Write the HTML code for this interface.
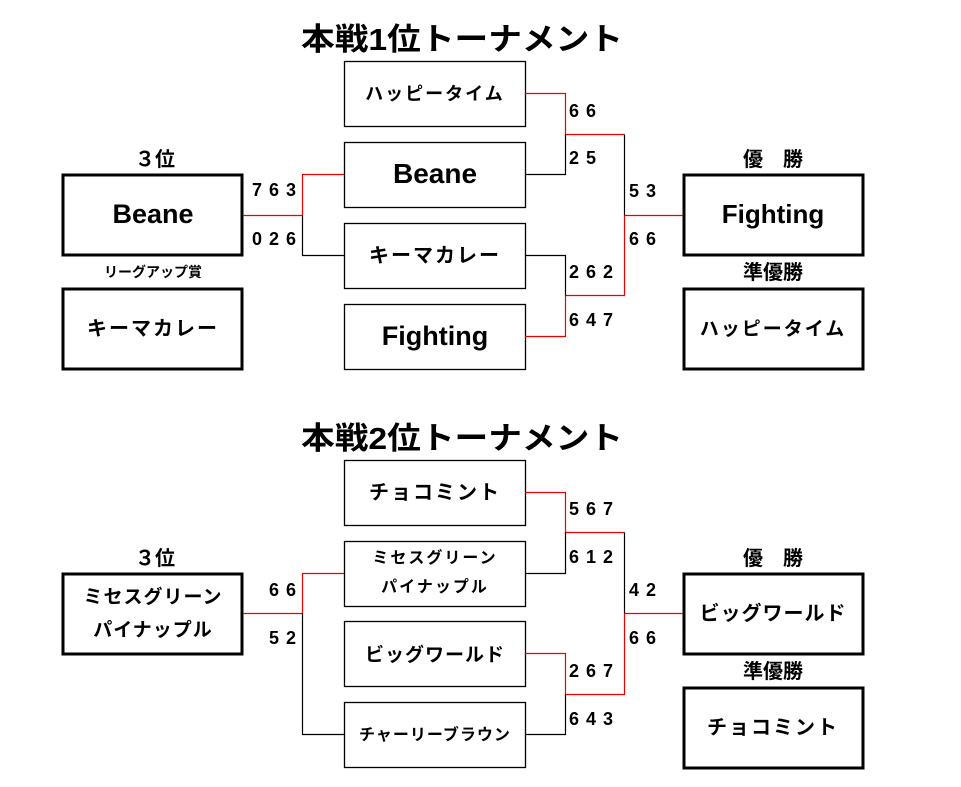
<!DOCTYPE html>
<html><head><meta charset="utf-8"><style>
html,body{margin:0;padding:0;background:#fff;}
svg{display:block;}
text{font-family:"Liberation Sans","Noto Sans CJK JP",sans-serif;font-weight:bold;fill:#000;}
</style></head><body>
<svg width="961" height="787" viewBox="0 0 961 787" xmlns="http://www.w3.org/2000/svg">
<g fill="#fff" stroke="#000">
<rect x="344.5" y="61.5" width="181" height="65" stroke-width="1.3"/>
<rect x="344.5" y="142.5" width="181" height="65" stroke-width="1.3"/>
<rect x="344.5" y="223.5" width="181" height="65" stroke-width="1.3"/>
<rect x="344.5" y="304.5" width="181" height="65" stroke-width="1.3"/>
<rect x="344.5" y="460.5" width="181" height="65" stroke-width="1.3"/>
<rect x="344.5" y="541.5" width="181" height="65" stroke-width="1.3"/>
<rect x="344.5" y="621.5" width="181" height="65" stroke-width="1.3"/>
<rect x="344.5" y="702.5" width="181" height="65" stroke-width="1.3"/>
<rect x="63" y="175" width="179" height="80" stroke-width="3"/>
<rect x="63" y="289" width="179" height="80" stroke-width="3"/>
<rect x="684" y="175" width="179" height="80" stroke-width="3"/>
<rect x="684" y="289" width="179" height="80" stroke-width="3"/>
<rect x="63" y="574" width="179" height="80" stroke-width="3"/>
<rect x="684" y="574" width="179" height="80" stroke-width="3"/>
<rect x="684" y="688" width="179" height="80" stroke-width="3"/>
</g>
<g fill="none" stroke-width="1.2">
<path d="M243 215.5H302.5" stroke="#e00"/>
<path d="M344 174.5H302.5V215.5" stroke="#e00"/>
<path d="M302.5 215.5V255.5H344" stroke="#000"/>
<path d="M525 93.5H565.5V134.5H624.5" stroke="#e00"/>
<path d="M525 174.5H565.5V134.5" stroke="#000"/>
<path d="M624.5 134.5V215.5" stroke="#000"/>
<path d="M624.5 215.5V295.5H565.5" stroke="#e00"/>
<path d="M624.5 215.5H683" stroke="#e00"/>
<path d="M525 255.5H565.5V295.5" stroke="#000"/>
<path d="M525 336.5H565.5V295.5" stroke="#e00"/>
<path d="M243 613.5H302.5" stroke="#e00"/>
<path d="M344 573.5H302.5V613.5" stroke="#e00"/>
<path d="M302.5 613.5V734.5H344" stroke="#000"/>
<path d="M525 492.5H565.5V532.5H624.5" stroke="#e00"/>
<path d="M525 573.5H565.5V532.5" stroke="#000"/>
<path d="M624.5 532.5V613.5" stroke="#000"/>
<path d="M624.5 613.5V694.5H565.5" stroke="#e00"/>
<path d="M624.5 613.5H683" stroke="#e00"/>
<path d="M525 653.5H565.5V694.5" stroke="#e00"/>
<path d="M525 734.5H565.5V694.5" stroke="#000"/>
</g>
<text x="462" y="50" font-size="31" text-anchor="middle" textLength="322" lengthAdjust="spacingAndGlyphs">本戦1位トーナメント</text>
<text x="462" y="449" font-size="31" text-anchor="middle" textLength="322" lengthAdjust="spacingAndGlyphs">本戦2位トーナメント</text>
<g font-size="20" text-anchor="middle">
<text x="155" y="166">３位</text>
<text x="773" y="166">優　勝</text>
<text x="773" y="279">準優勝</text>
<text x="155" y="565">３位</text>
<text x="773" y="565">優　勝</text>
<text x="773" y="678">準優勝</text>
</g>
<text x="153" y="277" font-size="14" text-anchor="middle">リーグアップ賞</text>
<g text-anchor="middle" font-size="20">
<text x="435" y="100" font-size="18" letter-spacing="2">ハッピータイム</text>
<text x="435" y="183" font-size="28">Beane</text>
<text x="435" y="345" font-size="27">Fighting</text>
<text x="435" y="262" letter-spacing="2">キーマカレー</text>
<text x="153" y="223" font-size="27">Beane</text>
<text x="153" y="335" letter-spacing="2">キーマカレー</text>
<text x="773" y="223" font-size="26">Fighting</text>
<text x="773" y="335" font-size="19" letter-spacing="2">ハッピータイム</text>
<text x="435" y="499" letter-spacing="2">チョコミント</text>
<text x="435" y="563" font-size="16" letter-spacing="2">ミセスグリーン</text>
<text x="435" y="592" font-size="16" letter-spacing="2">パイナップル</text>
<text x="435" y="661" font-size="19" letter-spacing="1">ビッグワールド</text>
<text x="435" y="740" font-size="16" letter-spacing="1">チャーリーブラウン</text>
<text x="153" y="603" font-size="19" letter-spacing="1">ミセスグリーン</text>
<text x="153" y="636" font-size="19" letter-spacing="1">パイナップル</text>
<text x="773" y="620" font-size="20" letter-spacing="1">ビッグワールド</text>
<text x="773" y="734" letter-spacing="2">チョコミント</text>
</g>
<g font-size="18" letter-spacing="7">
<text x="252" y="196">763</text>
<text x="252" y="245">026</text>
<text x="569" y="117">66</text>
<text x="569" y="164">25</text>
<text x="629" y="197">53</text>
<text x="629" y="245">66</text>
<text x="569" y="278">262</text>
<text x="569" y="326">647</text>
<text x="569" y="515">567</text>
<text x="569" y="563">612</text>
<text x="629" y="596">42</text>
<text x="629" y="644">66</text>
<text x="569" y="677">267</text>
<text x="569" y="725">643</text>
<text x="269" y="596">66</text>
<text x="269" y="644">52</text>
</g>
</svg>
</body></html>
